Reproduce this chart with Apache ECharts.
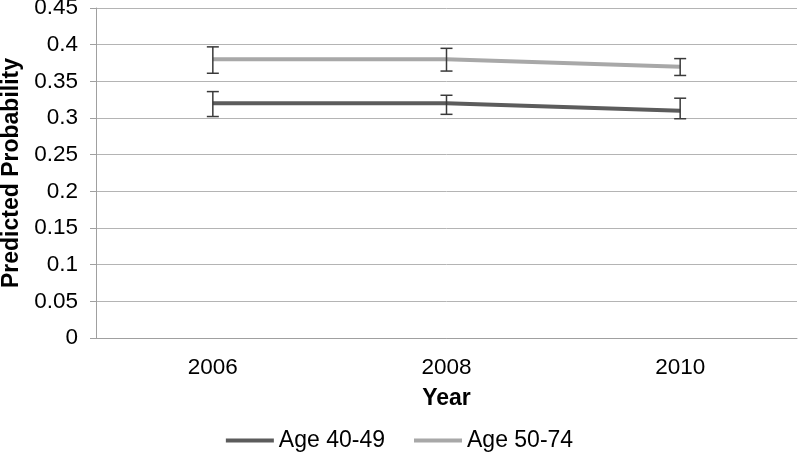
<!DOCTYPE html>
<html>
<head>
<meta charset="utf-8">
<script src="https://cdn.jsdelivr.net/npm/echarts@6/dist/echarts.min.js"></script>
<style>
html, body { margin: 0; padding: 0; background: #fff; }
#container { width: 799px; height: 455px; }
</style>
</head>
<body>
<div id="container"></div>
<script>
var years = ['2006', '2008', '2010'];
var age4049 = [0.32, 0.32, 0.31];
var age4049Low = [0.302, 0.305, 0.299];
var age4049High = [0.336, 0.331, 0.327];
var age5074 = [0.38, 0.38, 0.37];
var age5074Low = [0.361, 0.364, 0.358];
var age5074High = [0.397, 0.395, 0.381];

var dom = document.getElementById('container');
var myChart = echarts.init(dom);

function errorData(low, high) {
    var res = [];
    for (var i = 0; i < low.length; i++) {
        res.push([i, low[i], high[i]]);
    }
    return res;
}

function renderError(params, api) {
    var idx = api.value(0);
    var lo = api.coord([idx, api.value(1)]);
    var hi = api.coord([idx, api.value(2)]);
    var half = 6;
    var style = { stroke: '#3a3a3a', lineWidth: 1.5 };
    return {
        type: 'group',
        children: [
            { type: 'line', shape: { x1: hi[0], y1: hi[1], x2: lo[0], y2: lo[1] }, style: style },
            { type: 'line', shape: { x1: hi[0] - half, y1: hi[1], x2: hi[0] + half, y2: hi[1] }, style: style },
            { type: 'line', shape: { x1: lo[0] - half, y1: lo[1], x2: lo[0] + half, y2: lo[1] }, style: style }
        ]
    };
}

var fontFam = 'Liberation Sans, Arial, sans-serif';

var option = {
    backgroundColor: '#fff',
    animation: false,
    grid: { left: 96, right: 2, top: 8, bottom: 117, outerBoundsMode: 'none', containLabel: false },
    legend: {
        top: 424,
        left: 'center',
        itemWidth: 48,
        itemHeight: 4,
        itemGap: 29,
        icon: 'rect',
        textStyle: { fontSize: 23, color: '#000', fontFamily: fontFam },
        data: ['Age 40-49', 'Age 50-74']
    },
    xAxis: {
        type: 'category',
        data: years,
        name: 'Year',
        nameLocation: 'middle',
        nameGap: 49,
        nameTextStyle: { fontSize: 23, fontWeight: 'bold', color: '#000', fontFamily: fontFam },
        axisLine: { lineStyle: { color: '#a0a0a0', width: 1 } },
        axisTick: { length: 8, lineStyle: { color: '#a0a0a0' } },
        axisLabel: { fontSize: 22.5, color: '#000', margin: 18, fontFamily: fontFam }
    },
    yAxis: {
        type: 'value',
        min: 0,
        max: 0.45,
        interval: 0.05,
        name: 'Predicted Probability',
        nameLocation: 'middle',
        nameGap: 73,
        nameTextStyle: { fontSize: 23, fontWeight: 'bold', color: '#000', fontFamily: fontFam },
        axisLine: { show: true, lineStyle: { color: '#a0a0a0', width: 1 } },
        axisTick: { show: true, length: 6, lineStyle: { color: '#a0a0a0' } },
        axisLabel: { fontSize: 22.5, color: '#000', margin: 18, fontFamily: fontFam },
        splitLine: { lineStyle: { color: '#b4b4b4', width: 1 } }
    },
    series: [
        {
            name: 'Age 40-49',
            type: 'line',
            data: age4049,
            symbol: 'none',
            color: '#5c5c5c',
            lineStyle: { width: 4, color: '#5c5c5c' }
        },
        {
            name: 'Age 50-74',
            type: 'line',
            data: age5074,
            symbol: 'none',
            color: '#a8a8a8',
            lineStyle: { width: 4, color: '#a8a8a8' }
        },
        {
            type: 'custom',
            renderItem: renderError,
            data: errorData(age4049Low, age4049High),
            z: 5
        },
        {
            type: 'custom',
            renderItem: renderError,
            data: errorData(age5074Low, age5074High),
            z: 5
        }
    ]
};

myChart.setOption(option);
</script>
</body>
</html>
